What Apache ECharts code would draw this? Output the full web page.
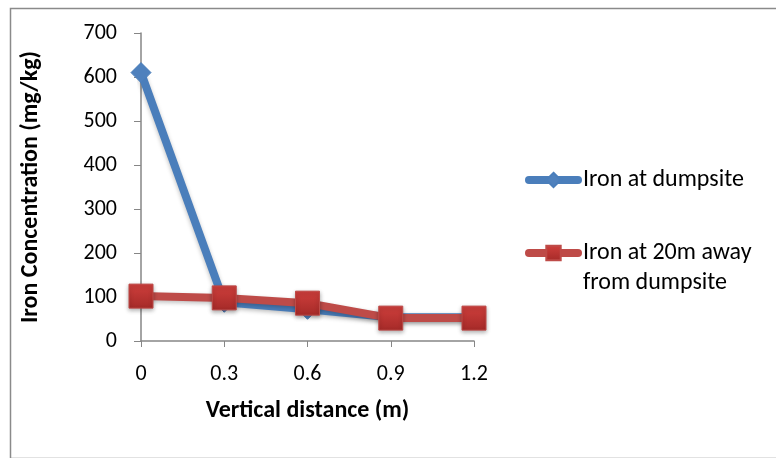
<!DOCTYPE html>
<html>
<head>
<meta charset="utf-8">
<script src="https://cdn.jsdelivr.net/npm/echarts@6/dist/echarts.min.js"></script>
<style>html,body{margin:0;padding:0;background:#fff}#c{width:776px;height:458px}</style>
</head>
<body>
<div id="c"></div>
<script>
const categories = ['0', '0.3', '0.6', '0.9', '1.2'];
const ironDumpsite = [610, 88, 72, 54, 54];
const iron20m = [102, 98, 86, 52, 52];
const seriesNames = ['Iron at dumpsite', 'Iron at 20m away from dumpsite'];
const legendLines = ['Iron at 20m away', 'from dumpsite'];
const yTicks = { min: 0, max: 700, interval: 100 };

const FONT = 'Carlito, Lato, "Open Sans", sans-serif';
const chart = echarts.init(document.getElementById('c'));
chart.setOption({
  animation: false,
  backgroundColor: '#fff',
  graphic: [{
    type: 'rect', left: 8, top: 6,
    shape: { width: 790, height: 450 },
    style: { fill: 'none', stroke: '#8a8a8a', lineWidth: 1.5 }
  }, {
    type: 'text', left: 583, top: 271,
    style: { text: legendLines[1], fontFamily: FONT, fontSize: 24, fill: '#000' }
  }],
  grid: { left: 141, top: 33, width: 333, height: 308, containLabel: false },
  legend: {
    orient: 'vertical', left: 525, top: 166, itemGap: 45, padding: 0,
    itemWidth: 49, itemHeight: 18,
    data: seriesNames,
    lineStyle: { width: 8, cap: 'round' },
    formatter: function (n) { return n === seriesNames[1] ? legendLines[0] : n; },
    textStyle: { fontFamily: FONT, fontSize: 24, color: '#000', lineHeight: 28 }
  },
  xAxis: {
    type: 'category', data: categories, boundaryGap: false,
    name: 'Vertical distance (m)', nameLocation: 'middle', nameGap: 58,
    nameTextStyle: { fontFamily: FONT, fontSize: 24, fontWeight: 'bold', color: '#000' },
    axisLine: { lineStyle: { color: '#868686', width: 1.5 } },
    axisTick: { show: true, alignWithLabel: true, length: 6, lineStyle: { color: '#868686' } },
    axisLabel: { fontFamily: FONT, fontSize: 22, color: '#000', margin: 22 },
    splitLine: { show: false }
  },
  yAxis: {
    type: 'value', min: yTicks.min, max: yTicks.max, interval: yTicks.interval,
    name: 'Iron Concentration (mg/kg)', nameLocation: 'middle', nameGap: 98, nameRotate: 90,
    nameTextStyle: { fontFamily: FONT, fontSize: 24, fontWeight: 'bold', color: '#000' },
    axisLine: { show: true, lineStyle: { color: '#868686', width: 1.5 } },
    axisTick: { show: true, length: 7, lineStyle: { color: '#868686' } },
    axisLabel: { fontFamily: FONT, fontSize: 22, color: '#000', margin: 24 },
    splitLine: { show: false }
  },
  series: [{
    name: seriesNames[0], type: 'line', data: ironDumpsite,
    symbol: 'diamond', symbolSize: 20,
    lineStyle: { color: '#4a7ebb', width: 8, shadowColor: 'rgba(0,0,0,0.25)', shadowBlur: 4, shadowOffsetY: 2 },
    itemStyle: { color: '#4f81bd', borderColor: '#4a7ebb', borderWidth: 1 },
    z: 2
  }, {
    name: seriesNames[1], type: 'line', data: iron20m,
    symbol: 'rect', symbolSize: 24,
    lineStyle: { color: '#be4b48', width: 8, shadowColor: 'rgba(0,0,0,0.25)', shadowBlur: 4, shadowOffsetY: 2 },
    itemStyle: {
      color: new echarts.graphic.LinearGradient(0, 0, 0, 1, [
        { offset: 0, color: '#cf3f3c' }, { offset: 1, color: '#a52a28' }
      ]),
      borderColor: '#be4b48', borderWidth: 1,
      shadowColor: 'rgba(0,0,0,0.3)', shadowBlur: 4, shadowOffsetY: 2
    },
    z: 3
  }]
});
</script>
</body>
</html>
